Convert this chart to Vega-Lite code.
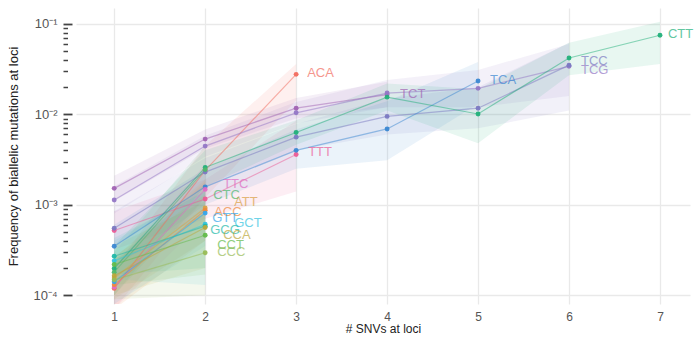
{
 "$schema": "https://vega.github.io/schema/vega-lite/v6.json",
 "width": 614, "height": 296,
 "autosize": {"type": "none"},
 "padding": {"left": 76, "top": 8, "right": 5, "bottom": 33},
 "config": {"view": {"stroke": null}, "font": "Liberation Sans", "axis": {"gridColor": "#e9e9e9", "gridWidth": 1.3}},
 "data": {"values": [
  {"ctx":"ACA","n":1,"freq":0.000119,"lo":0.00007,"hi":0.0002},
  {"ctx":"ACA","n":2,"freq":0.0024,"lo":0.0012,"hi":0.0045},
  {"ctx":"ACA","n":3,"freq":0.0277,"lo":0.0142,"hi":0.036},
  {"ctx":"TTT","n":1,"freq":0.00052,"lo":0.00032,"hi":0.00085},
  {"ctx":"TTT","n":2,"freq":0.00116,"lo":0.0007,"hi":0.0019},
  {"ctx":"TTT","n":3,"freq":0.0036,"lo":0.0014,"hi":0.0085},
  {"ctx":"TCT","n":1,"freq":0.00152,"lo":0.0011,"hi":0.0021},
  {"ctx":"TCT","n":2,"freq":0.00533,"lo":0.0042,"hi":0.0068},
  {"ctx":"TCT","n":3,"freq":0.0117,"lo":0.009,"hi":0.0152},
  {"ctx":"TCT","n":4,"freq":0.0165,"lo":0.012,"hi":0.023},
  {"ctx":"TCG","n":1,"freq":0.00113,"lo":0.0008,"hi":0.0016},
  {"ctx":"TCG","n":2,"freq":0.00446,"lo":0.0034,"hi":0.0058},
  {"ctx":"TCG","n":3,"freq":0.0104,"lo":0.0079,"hi":0.0137},
  {"ctx":"TCG","n":4,"freq":0.0172,"lo":0.012,"hi":0.024},
  {"ctx":"TCG","n":5,"freq":0.0194,"lo":0.012,"hi":0.031},
  {"ctx":"TCG","n":6,"freq":0.034,"lo":0.016,"hi":0.06},
  {"ctx":"TCC","n":1,"freq":0.00055,"lo":0.00035,"hi":0.00085},
  {"ctx":"TCC","n":2,"freq":0.0023,"lo":0.0016,"hi":0.0033},
  {"ctx":"TCC","n":3,"freq":0.0056,"lo":0.004,"hi":0.0078},
  {"ctx":"TCC","n":4,"freq":0.0095,"lo":0.006,"hi":0.015},
  {"ctx":"TCC","n":5,"freq":0.0117,"lo":0.007,"hi":0.02},
  {"ctx":"TCC","n":6,"freq":0.035,"lo":0.011,"hi":0.062},
  {"ctx":"TCA","n":1,"freq":0.000348,"lo":0.0002,"hi":0.0006},
  {"ctx":"TCA","n":2,"freq":0.00158,"lo":0.001,"hi":0.0025},
  {"ctx":"TCA","n":3,"freq":0.004,"lo":0.0025,"hi":0.0068},
  {"ctx":"TCA","n":4,"freq":0.0069,"lo":0.0031,"hi":0.014},
  {"ctx":"TCA","n":5,"freq":0.0234,"lo":0.013,"hi":0.038},
  {"ctx":"CTT","n":1,"freq":0.000198,"lo":0.0001,"hi":0.00035},
  {"ctx":"CTT","n":2,"freq":0.00259,"lo":0.0016,"hi":0.004},
  {"ctx":"CTT","n":3,"freq":0.0063,"lo":0.0046,"hi":0.0086},
  {"ctx":"CTT","n":4,"freq":0.0155,"lo":0.011,"hi":0.022},
  {"ctx":"CTT","n":5,"freq":0.0101,"lo":0.0048,"hi":0.019},
  {"ctx":"CTT","n":6,"freq":0.042,"lo":0.027,"hi":0.062},
  {"ctx":"CTT","n":7,"freq":0.075,"lo":0.036,"hi":0.106},
  {"ctx":"CTC","n":1,"freq":0.00018,"lo":0.0001,"hi":0.0003},
  {"ctx":"CTC","n":2,"freq":0.00245,"lo":0.0012,"hi":0.0045},
  {"ctx":"TTC","n":1,"freq":0.000123,"lo":0.00007,"hi":0.0002},
  {"ctx":"TTC","n":2,"freq":0.00148,"lo":0.0007,"hi":0.0028},
  {"ctx":"ATT","n":1,"freq":0.000155,"lo":0.00009,"hi":0.00026},
  {"ctx":"ATT","n":2,"freq":0.00092,"lo":0.0004,"hi":0.0019},
  {"ctx":"ACC","n":1,"freq":0.000131,"lo":0.00007,"hi":0.00023},
  {"ctx":"ACC","n":2,"freq":0.00087,"lo":0.0004,"hi":0.0018},
  {"ctx":"GTT","n":1,"freq":0.000141,"lo":0.00008,"hi":0.00024},
  {"ctx":"GTT","n":2,"freq":0.00081,"lo":0.00035,"hi":0.0017},
  {"ctx":"GCT","n":1,"freq":0.00024,"lo":0.00015,"hi":0.0004},
  {"ctx":"GCT","n":2,"freq":0.00061,"lo":0.00013,"hi":0.0015},
  {"ctx":"GCG","n":1,"freq":0.00027,"lo":0.00017,"hi":0.00043},
  {"ctx":"GCG","n":2,"freq":0.00058,"lo":0.0002,"hi":0.0014},
  {"ctx":"CCA","n":1,"freq":0.000164,"lo":0.0001,"hi":0.00027},
  {"ctx":"CCA","n":2,"freq":0.00056,"lo":0.0002,"hi":0.0013},
  {"ctx":"CCT","n":1,"freq":0.000219,"lo":0.00013,"hi":0.00035},
  {"ctx":"CCT","n":2,"freq":0.00046,"lo":0.00017,"hi":0.0011},
  {"ctx":"CCC","n":1,"freq":0.000148,"lo":0.00009,"hi":0.00025},
  {"ctx":"CCC","n":2,"freq":0.000295,"lo":0.0001,"hi":0.0008}
 ]},
 "encoding": {
  "x": {"field": "n", "type": "quantitative",
        "scale": {"domain": [0.58, 7.33], "nice": false, "zero": false},
        "axis": {"title": "# SNVs at loci", "values": [1,2,3,4,5,6,7], "format": "d", "ticks": false, "domain": false,
                 "labelPadding": 7, "labelFontSize": 12, "labelColor": "#555", "titlePadding": 1,
                 "titleFontSize": 12, "titleFontWeight": "normal", "titleColor": "#222"}},
  "y": {"field": "freq", "type": "quantitative",
        "scale": {"type": "log", "domain": [0.00008, 0.15], "nice": false},
        "axis": {"title": "Frequency of biallelic mutations at loci",
                 "values": [0.0001,0.0002,0.0003,0.0004,0.0005,0.0006,0.0007,0.0008,0.0009,0.001,0.002,0.003,0.004,0.005,0.006,0.007,0.008,0.009,0.01,0.02,0.03,0.04,0.05,0.06,0.07,0.08,0.09,0.1],
                 "labelExpr": "datum.value === 0.1 ? '10⁻¹' : datum.value === 0.01 ? '10⁻²' : datum.value === 0.001 ? '10⁻³' : datum.value === 0.0001 ? '10⁻⁴' : ''",
                 "offset": 4, "domain": false, "tickSize": 9, "tickColor": "#444",
                 "tickWidth": {"condition": {"test": "datum.value === 0.1 || datum.value === 0.01 || datum.value === 0.001 || datum.value === 0.0001", "value": 1.8}, "value": 1.4},
                 "tickDash": {"condition": {"test": "!(datum.value === 0.1 || datum.value === 0.01 || datum.value === 0.001 || datum.value === 0.0001)", "value": [0, 4.5, 4.5, 20]}, "value": []},
                 "gridOpacity": {"condition": {"test": "datum.value === 0.1 || datum.value === 0.01 || datum.value === 0.001 || datum.value === 0.0001", "value": 1}, "value": 0},
                 "labelPadding": 6, "labelFontSize": 13, "labelColor": "#555",
                 "titleFontSize": 13, "titleFontWeight": "normal", "titleColor": "#222", "titlePadding": 12}},
  "color": {"field": "ctx", "type": "nominal", "legend": null,
            "scale": {"domain": ["ACA","ACC","ATT","CCA","CCC","CCT","CTC","CTT","GCG","GCT","GTT","TCA","TCC","TCG","TCT","TTC","TTT"],
                      "range": ["#F26B5E","#EE8A3C","#D99F45","#BBA83A","#98BC55","#62BA4A","#4FB86C","#22B07A","#20B8A8","#33C3DF","#34A5EC","#3B87D2","#7B79C2","#9377C6","#A163B3","#E06BC4","#EC5B96"]}}
 },
 "layer": [
  {"mark": {"type": "area", "opacity": 0.1, "clip": true},
   "encoding": {"y": {"field": "lo", "type": "quantitative", "title": "Frequency of biallelic mutations at loci"}, "y2": {"field": "hi"}}},
  {"mark": {"type": "line", "strokeWidth": 1.2, "opacity": 0.5}},
  {"mark": {"type": "circle", "size": 24, "opacity": 0.95}},
  {"transform": [{"filter": "datum.ctx === 'ACA' && datum.n === 3"}], "mark": {"type": "text", "dx": 11, "dy": -1, "align": "left", "baseline": "middle", "fontSize": 13, "opacity": 0.7}, "encoding": {"text": {"field": "ctx"}}},
  {"transform": [{"filter": "datum.ctx === 'TTT' && datum.n === 3"}], "mark": {"type": "text", "dx": 12, "dy": -2, "align": "left", "baseline": "middle", "fontSize": 13, "opacity": 0.7}, "encoding": {"text": {"field": "ctx"}}},
  {"transform": [{"filter": "datum.ctx === 'TCT' && datum.n === 4"}], "mark": {"type": "text", "dx": 13, "dy": -1, "align": "left", "baseline": "middle", "fontSize": 13, "opacity": 0.7}, "encoding": {"text": {"field": "ctx"}}},
  {"transform": [{"filter": "datum.ctx === 'TCA' && datum.n === 5"}], "mark": {"type": "text", "dx": 12, "dy": -1, "align": "left", "baseline": "middle", "fontSize": 13, "opacity": 0.7}, "encoding": {"text": {"field": "ctx"}}},
  {"transform": [{"filter": "datum.ctx === 'TCC' && datum.n === 6"}], "mark": {"type": "text", "dx": 12, "dy": -4, "align": "left", "baseline": "middle", "fontSize": 13, "opacity": 0.7}, "encoding": {"text": {"field": "ctx"}}},
  {"transform": [{"filter": "datum.ctx === 'TCG' && datum.n === 6"}], "mark": {"type": "text", "dx": 12, "dy": 4, "align": "left", "baseline": "middle", "fontSize": 13, "opacity": 0.7}, "encoding": {"text": {"field": "ctx"}}},
  {"transform": [{"filter": "datum.ctx === 'CTT' && datum.n === 7"}], "mark": {"type": "text", "dx": 8, "dy": -1, "align": "left", "baseline": "middle", "fontSize": 13, "opacity": 0.7}, "encoding": {"text": {"field": "ctx"}}},
  {"transform": [{"filter": "datum.ctx === 'TTC' && datum.n === 2"}], "mark": {"type": "text", "dx": 18, "dy": -5, "align": "left", "baseline": "middle", "fontSize": 13, "opacity": 0.7}, "encoding": {"text": {"field": "ctx"}}},
  {"transform": [{"filter": "datum.ctx === 'CTC' && datum.n === 2"}], "mark": {"type": "text", "dx": 8, "dy": 25, "align": "left", "baseline": "middle", "fontSize": 13, "opacity": 0.7}, "encoding": {"text": {"field": "ctx"}}},
  {"transform": [{"filter": "datum.ctx === 'ATT' && datum.n === 2"}], "mark": {"type": "text", "dx": 29, "dy": -6, "align": "left", "baseline": "middle", "fontSize": 13, "opacity": 0.7}, "encoding": {"text": {"field": "ctx"}}},
  {"transform": [{"filter": "datum.ctx === 'ACC' && datum.n === 2"}], "mark": {"type": "text", "dx": 9, "dy": 2, "align": "left", "baseline": "middle", "fontSize": 13, "opacity": 0.7}, "encoding": {"text": {"field": "ctx"}}},
  {"transform": [{"filter": "datum.ctx === 'GTT' && datum.n === 2"}], "mark": {"type": "text", "dx": 7, "dy": 5, "align": "left", "baseline": "middle", "fontSize": 13, "opacity": 0.7}, "encoding": {"text": {"field": "ctx"}}},
  {"transform": [{"filter": "datum.ctx === 'GCT' && datum.n === 2"}], "mark": {"type": "text", "dx": 29, "dy": -1, "align": "left", "baseline": "middle", "fontSize": 13, "opacity": 0.7}, "encoding": {"text": {"field": "ctx"}}},
  {"transform": [{"filter": "datum.ctx === 'GCG' && datum.n === 2"}], "mark": {"type": "text", "dx": 5, "dy": 4, "align": "left", "baseline": "middle", "fontSize": 13, "opacity": 0.7}, "encoding": {"text": {"field": "ctx"}}},
  {"transform": [{"filter": "datum.ctx === 'CCA' && datum.n === 2"}], "mark": {"type": "text", "dx": 18, "dy": 7, "align": "left", "baseline": "middle", "fontSize": 13, "opacity": 0.7}, "encoding": {"text": {"field": "ctx"}}},
  {"transform": [{"filter": "datum.ctx === 'CCT' && datum.n === 2"}], "mark": {"type": "text", "dx": 12, "dy": 10, "align": "left", "baseline": "middle", "fontSize": 13, "opacity": 0.7}, "encoding": {"text": {"field": "ctx"}}},
  {"transform": [{"filter": "datum.ctx === 'CCC' && datum.n === 2"}], "mark": {"type": "text", "dx": 12, "dy": -1, "align": "left", "baseline": "middle", "fontSize": 13, "opacity": 0.7}, "encoding": {"text": {"field": "ctx"}}}
]
}
